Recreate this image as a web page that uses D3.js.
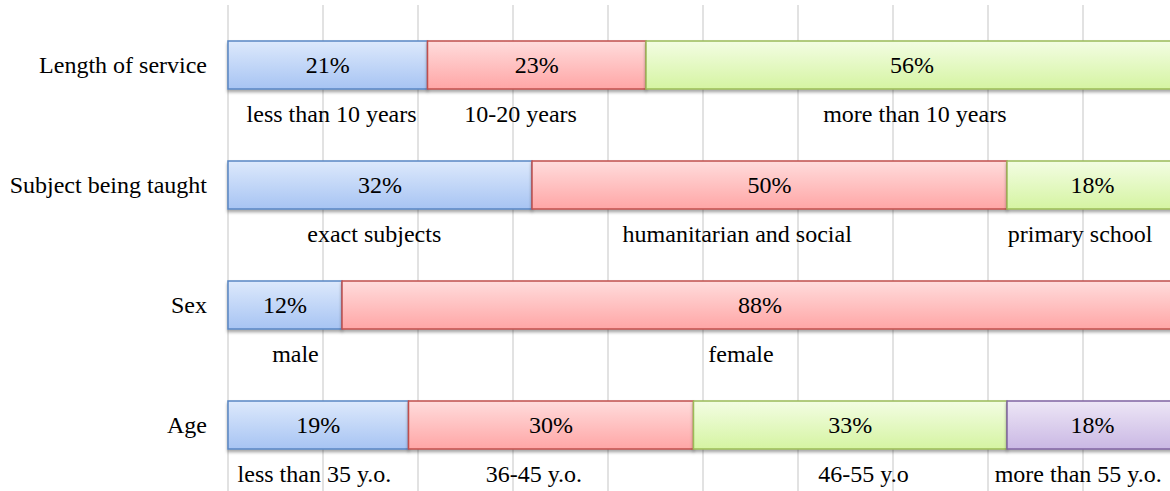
<!DOCTYPE html>
<html><head><meta charset="utf-8">
<script src="https://cdn.jsdelivr.net/npm/d3@7"></script>
<style>html,body{margin:0;padding:0;background:#fff;overflow:hidden}</style>
</head><body>
<svg id="c" width="1170" height="491"></svg>
<script>
const categories = ["Length of service", "Subject being taught", "Sex", "Age"];
const lengthValues = [21, 23, 56];
const lengthLabels = ["less than 10 years", "10-20 years", "more than 10 years"];
const subjectValues = [32, 50, 18];
const subjectLabels = ["exact subjects", "humanitarian and social", "primary school"];
const sexValues = [12, 88];
const sexLabels = ["male", "female"];
const ageValues = [19, 30, 33, 18];
const ageLabels = ["less than 35 y.o.", "36-45 y.o.", "46-55 y.o", "more than 55 y.o."];
const xTicks = [0,10,20,30,40,50,60,70,80,90,100];
// label anchors (in % units along the axis)
const labelAnchors = [[10.9, 30.8, 72.3],[15.4, 53.6, 89.7],[7.1, 54],[9.1, 32.2, 66.9, 89.5]];

const rows = [
  {cat: categories[0], values: lengthValues, labels: lengthLabels},
  {cat: categories[1], values: subjectValues, labels: subjectLabels},
  {cat: categories[2], values: sexValues, labels: sexLabels},
  {cat: categories[3], values: ageValues, labels: ageLabels}
];

const fills = [
  {top:"#dde9fc", bot:"#a7c4f3", stroke:"#5a86c3"},
  {top:"#ffdcdc", bot:"#ffa6a6", stroke:"#c0504d"},
  {top:"#f3fde3", bot:"#d5f4a2", stroke:"#9bbb59"},
  {top:"#ede6f6", bot:"#cab8e4", stroke:"#8064a2"}
];

const svg = d3.select("#c");
const font = "'Liberation Serif','Times New Roman',serif";
const fs = 24;
const x = d3.scaleLinear().domain([0,100]).range([228, 1178]);
const y = d3.scaleBand().domain(categories).range([5, 485]).paddingInner(0.6).paddingOuter(0.3);

const defs = svg.append("defs");
fills.forEach((f,i)=>{
  const g = defs.append("linearGradient").attr("id","g"+i).attr("x1",0).attr("y1",0).attr("x2",0).attr("y2",1);
  g.append("stop").attr("offset","0%").attr("stop-color",f.top);
  g.append("stop").attr("offset","100%").attr("stop-color",f.bot);
});
const flt = defs.append("filter").attr("id","sh").attr("x","-5%").attr("y","-20%").attr("width","110%").attr("height","150%");
flt.append("feDropShadow").attr("dx",0).attr("dy",2.5).attr("stdDeviation",1.5).attr("flood-color","#000").attr("flood-opacity",0.35);

// gridlines
svg.append("g").selectAll("line").data(xTicks).join("line")
  .attr("x1",d=>x(d)).attr("x2",d=>x(d)).attr("y1",5).attr("y2",491)
  .attr("stroke","#d9d9d9").attr("stroke-width",1.5);

// category labels
svg.append("g").selectAll("text").data(categories).join("text")
  .attr("x",207).attr("y",d=>y(d)+y.bandwidth()/2).attr("dy","0.35em")
  .attr("text-anchor","end").attr("font-family",font).attr("font-size",fs).attr("fill","#000")
  .text(d=>d);

rows.forEach((r,ri)=>{
  let cum = 0;
  const segs = r.values.map((v,i)=>{const s={start:cum,end:cum+v,v,i,label:r.labels[i],anchor:labelAnchors[ri][i]}; cum+=v; return s;});
  const g = svg.append("g");
  g.selectAll("rect").data(segs).join("rect")
    .attr("x",d=>x(d.start)).attr("y",y(r.cat))
    .attr("width",d=>x(d.end)-x(d.start)).attr("height",y.bandwidth())
    .attr("fill",d=>`url(#g${d.i})`).attr("stroke",d=>fills[d.i].stroke).attr("stroke-width",1.5)
    .attr("filter","url(#sh)");
  g.selectAll("text.v").data(segs).join("text").attr("class","v")
    .attr("x",d=>(x(d.start)+x(d.end))/2).attr("y",y(r.cat)+y.bandwidth()/2).attr("dy","0.35em")
    .attr("text-anchor","middle").attr("font-family",font).attr("font-size",fs).attr("fill","#000")
    .text(d=>d.v+"%");
  g.selectAll("text.l").data(segs).join("text").attr("class","l")
    .attr("x",d=>x(d.anchor)).attr("y",y(r.cat)+y.bandwidth()+33)
    .attr("text-anchor","middle").attr("font-family",font).attr("font-size",fs).attr("fill","#000")
    .text(d=>d.label);
});
</script>
</body></html>
